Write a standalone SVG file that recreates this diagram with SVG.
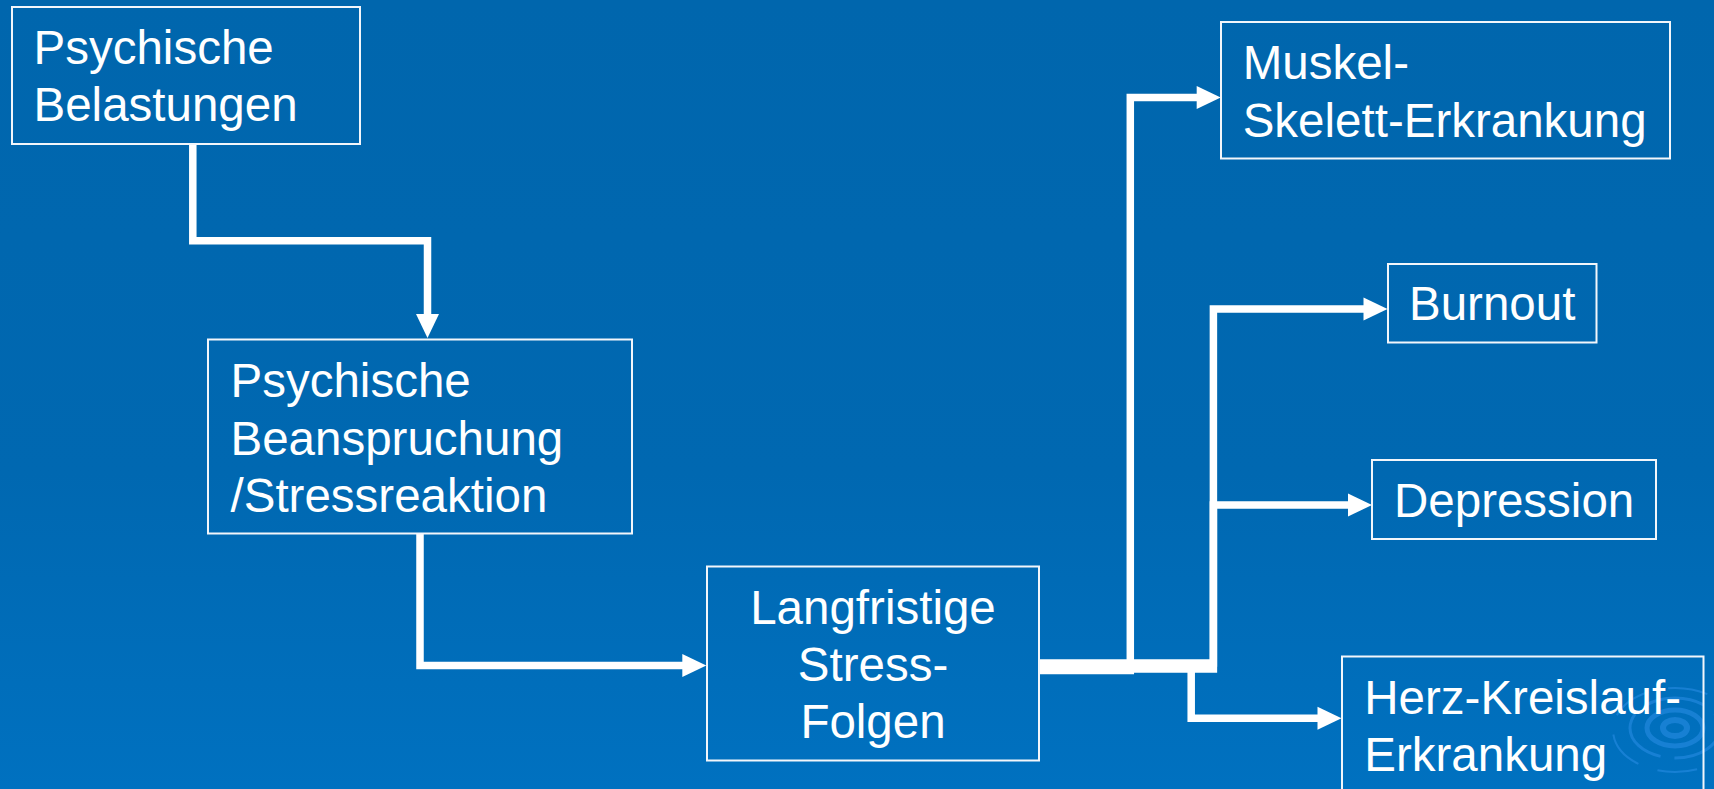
<svg xmlns="http://www.w3.org/2000/svg" width="1714" height="789" viewBox="0 0 1714 789">
<defs>
<linearGradient id="bg" x1="0" y1="0" x2="0" y2="1">
<stop offset="0" stop-color="#0066ad"/>
<stop offset="0.6" stop-color="#0068b1"/>
<stop offset="1" stop-color="#0071c0"/>
</linearGradient>
<marker id="arr" markerUnits="userSpaceOnUse" markerWidth="24" markerHeight="23" refX="4" refY="11.5" orient="auto" overflow="visible">
<path d="M0,0 L24,11.5 L0,23 Z" fill="#ffffff"/>
</marker>
<style>
.box{fill:none;stroke:#f2f6fb;stroke-width:2}
.lbl{font-family:"Liberation Sans",Arial,sans-serif;font-size:47.5px;fill:#ffffff}
.mid{text-anchor:middle}
.con{fill:none;stroke:#ffffff;stroke-width:7.5;stroke-linejoin:miter;stroke-linecap:butt}
.ripple{fill:none;stroke:#2a8ee6;stroke-opacity:0.55}
</style>
</defs>
<rect x="0" y="0" width="1714" height="789" fill="url(#bg)"/>
<g id="ripple">
<ellipse class="ripple" cx="1675" cy="728" rx="12" ry="8" stroke-width="6"/>
<ellipse class="ripple" cx="1675" cy="728" rx="28" ry="18" stroke-width="5"/>
<ellipse class="ripple" cx="1675" cy="728" rx="45" ry="30" stroke-width="3" stroke-dasharray="60 14"/>
<ellipse class="ripple" cx="1675" cy="730" rx="62" ry="42" stroke-width="2" stroke-dasharray="40 20"/>
</g>
<g id="connectors">
<polyline class="con" points="192.8,144 192.8,240.7 427.5,240.7 427.5,318" marker-end="url(#arr)"/>
<polyline class="con" points="420,534 420,665.5 686.3,665.5" marker-end="url(#arr)"/>
<polyline class="con" points="1040,670.5 1130.3,670.5 1130.3,97.6 1200.7,97.6" marker-end="url(#arr)"/>
<polyline class="con" points="1040,663 1213.4,663 1213.4,309 1367.5,309" marker-end="url(#arr)"/>
<polyline class="con" points="1040,669 1213.4,669 1213.4,505 1352,505" marker-end="url(#arr)"/>
<polyline class="con" points="1040,666 1191.2,666 1191.2,718.3 1321.5,718.3" marker-end="url(#arr)"/>
</g>
<g id="node-belastungen">
<rect class="box" x="12" y="7" width="348" height="137"/>
<text class="lbl" x="33.5" y="64">Psychische</text>
<text class="lbl" x="33.5" y="121">Belastungen</text>
</g>
<g id="node-beanspruchung">
<rect class="box" x="208" y="339.5" width="424" height="194"/>
<text class="lbl" x="230.5" y="397">Psychische</text>
<text class="lbl" x="230.5" y="454.5">Beanspruchung</text>
<text class="lbl" x="230.5" y="511.5">/Stressreaktion</text>
</g>
<g id="node-stressfolgen">
<rect class="box" x="707" y="566.5" width="332" height="194"/>
<text class="lbl mid" x="873" y="623.5">Langfristige</text>
<text class="lbl mid" x="873" y="680.5">Stress-</text>
<text class="lbl mid" x="873" y="737.5">Folgen</text>
</g>
<g id="node-muskel">
<rect class="box" x="1221" y="22" width="449" height="136.5"/>
<text class="lbl" x="1242.7" y="79">Muskel-</text>
<text class="lbl" x="1242.7" y="136.5">Skelett-Erkrankung</text>
</g>
<g id="node-burnout">
<rect class="box" x="1388" y="264" width="208.5" height="78.5"/>
<text class="lbl" x="1409" y="319.5">Burnout</text>
</g>
<g id="node-depression">
<rect class="box" x="1372" y="460" width="284" height="79"/>
<text class="lbl" x="1394" y="516.5">Depression</text>
</g>
<g id="node-herz">
<rect class="box" x="1342" y="656.5" width="361.5" height="150"/>
<text class="lbl" x="1364.3" y="713.5">Herz-Kreislauf-</text>
<text class="lbl" x="1364.3" y="771">Erkrankung</text>
</g>
</svg>
